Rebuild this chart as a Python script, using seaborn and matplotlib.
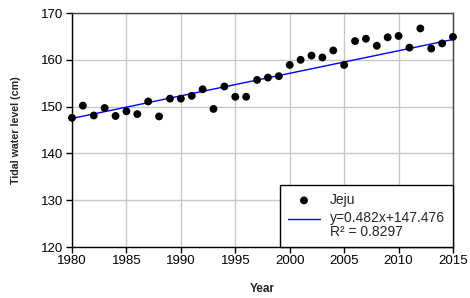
import numpy as np
import pandas as pd
import seaborn as sns
import matplotlib.pyplot as plt
from matplotlib.legend_handler import HandlerLine2D

# Observed annual tidal water level at Jeju (cm)
years = list(range(1980, 2016))
levels = [147.6, 150.2, 148.1, 149.7, 148.0, 149.0, 148.4, 151.1, 147.9, 151.7,
          151.7, 152.3, 153.7, 149.5, 154.3, 152.1, 152.1, 155.7, 156.2, 156.5,
          158.9, 160.0, 160.9, 160.5, 162.0, 158.9, 164.0, 164.5, 163.0, 164.8,
          165.1, 162.6, 166.7, 162.4, 163.5, 164.9]

# Linear trend as printed in the legend (x = years since 1980)
slope = 0.482
intercept = 147.476
r2 = 0.8297

df = pd.DataFrame({'Year': years, 'Level': levels})
df['Trend'] = slope * (df['Year'] - 1980) + intercept


# legend line sits next to the first line of its two-line label
class UpperLine(HandlerLine2D):
    def create_artists(self, legend, orig_handle, xdescent, ydescent,
                       width, height, fontsize, trans):
        arts = super().create_artists(legend, orig_handle, xdescent, ydescent,
                                      width, height, fontsize, trans)
        for a in arts:
            a.set_ydata(np.asarray(a.get_ydata()) + 0.5 * fontsize)
        return arts


sns.set_style("white")
plt.rcParams['font.family'] = ['Liberation Sans', 'DejaVu Sans']

fig = plt.figure(figsize=(4.7, 2.98), dpi=100)
ax = fig.add_axes([72 / 470, 1 - 247 / 298, 381 / 470, 234 / 298])

ax.grid(True, color='#c8c8c8', linewidth=1.0, zorder=0)
ax.set_axisbelow(True)

trend_label = 'y=0.482x+147.476\nR\u00b2 = %.4f' % r2
sns.lineplot(data=df, x='Year', y='Trend', ax=ax, color='#0000ff', linewidth=1.0,
             label=trend_label, zorder=3)
sns.scatterplot(data=df, x='Year', y='Level', ax=ax, color='black', s=32,
                edgecolor='none', label='Jeju', zorder=4, clip_on=False)

ax.set_xlim(1980, 2015)
ax.set_ylim(120, 170)
ax.set_xticks(range(1980, 2016, 5))
ax.set_yticks(range(120, 171, 10))
ax.tick_params(axis='both', direction='out', length=4, width=1, colors='black',
               labelsize=9.5, pad=2, bottom=True, left=True)

for side in ['left', 'bottom']:
    ax.spines[side].set_color('black')
    ax.spines[side].set_linewidth(1.0)
for side in ['top', 'right']:
    ax.spines[side].set_color('#404040')
    ax.spines[side].set_linewidth(1.0)

ax.set_xlabel('Year', fontsize=8.5, fontweight='bold', labelpad=11)
ax.set_ylabel('Tidal water level (cm)', fontsize=7.7, fontweight='bold', labelpad=15)

handles, labels = ax.get_legend_handles_labels()
order = [labels.index('Jeju'), labels.index(trend_label)]
leg = ax.legend([handles[i] for i in order], [labels[i] for i in order],
                loc='lower right', borderaxespad=0, fancybox=False,
                edgecolor='black', framealpha=1, fontsize=10, handlelength=2.3,
                handletextpad=0.7, borderpad=0.6, labelspacing=0.3,
                handler_map={handles[order[1]]: UpperLine()})
for t in leg.get_texts():
    t.set_linespacing(0.95)
leg.get_frame().set_linewidth(1.0)

fig.savefig('out.png', dpi=100)
